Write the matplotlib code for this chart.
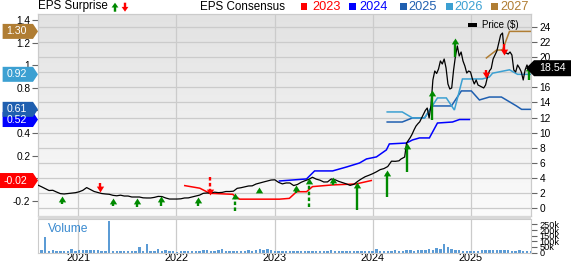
import numpy as np
import pandas as pd
import matplotlib
matplotlib.use('Agg')
import matplotlib.pyplot as plt
import matplotlib.dates as mdates
from matplotlib.patches import Polygon, Rectangle
from matplotlib.transforms import IdentityTransform
from matplotlib.path import Path
from matplotlib.colors import LinearSegmentedColormap
from matplotlib.ticker import FuncFormatter

plt.rcParams['font.family'] = ['Liberation Sans', 'DejaVu Sans']

# ------------------------------------------------------------------ data
price_start_a = '2020-08-03'   # bi-weekly closes
price_a = [3.05, 2.82, 2.57, 2.32, 2.35, 2.12, 1.91, 1.86, 1.92, 1.99,
           2.03, 2.15, 2.35, 2.71, 2.45, 2.19, 2.06, 1.92, 1.86, 1.82,
           1.68, 1.62, 1.70, 1.59, 1.59, 1.46, 1.46, 1.46, 1.35, 1.33,
           1.33, 1.41, 1.54, 1.52, 1.33, 1.19, 1.19, 1.19, 1.22, 1.33,
           1.34, 1.46, 1.59, 1.71, 1.95, 1.99, 1.99, 2.10, 2.04, 2.07,
           2.19, 2.19, 2.23, 2.61, 2.69, 2.81, 2.92, 2.94, 3.18, 3.32,
           3.45, 3.58, 3.71, 3.74, 3.40, 3.20, 3.32, 3.32, 2.98, 3.12,
           3.41, 3.62, 3.79, 4.08, 3.83, 3.69, 3.45, 3.46, 3.85, 3.75,
           3.53, 3.36, 3.20, 3.00, 3.14, 3.53, 3.86, 4.15, 4.34, 4.55,
           4.80, 5.09, 5.23, 5.50, 6.21, 6.19, 6.26]
price_start_b = '2024-04-15'   # weekly closes
price_b = [6.49, 6.63, 6.76, 8.62, 8.99, 9.35, 9.81, 10.37, 10.86, 11.17,
           11.43, 11.94, 12.44, 12.94, 13.26, 11.94, 13.66, 16.98, 18.17, 17.84,
           18.44, 19.50, 19.10, 19.76, 18.57, 16.45, 15.78, 15.92, 18.30, 20.16,
           21.49, 20.16, 20.69, 19.50, 18.83, 17.90, 18.17, 18.04, 17.11, 16.45,
           16.98, 16.31, 16.18, 16.05, 15.92, 16.31, 17.37, 18.17, 18.50, 19.76,
           20.29, 20.82, 21.88, 22.94, 23.21, 20.56, 20.56, 20.42, 20.69, 20.29,
           18.30, 18.04, 18.97, 18.57, 18.04, 16.98, 18.30, 18.97, 18.30, 18.54]

volume_start = '2020-08-03'    # bi-weekly volume, thousands
volume_k = [30, 20, 135, 15, 18, 12, 10, 14, 10, 32,
            14, 18, 22, 20, 24, 18, 20, 16, 14, 280,
            15, 12, 14, 12, 16, 12, 10, 50, 14, 72,
            12, 10, 28, 16, 18, 12, 10, 8, 10, 12,
            10, 14, 12, 15, 18, 20, 16, 14, 18, 30,
            14, 12, 10, 14, 12, 16, 18, 15, 22, 34,
            18, 33, 20, 14, 12, 10, 12, 10, 12, 14,
            12, 10, 14, 12, 16, 14, 12, 14, 24, 12,
            10, 12, 14, 10, 12, 14, 12, 10, 12, 14,
            28, 15, 12, 14, 16, 18, 16, 14, 18, 20,
            16, 18, 20, 22, 32, 22, 40, 35, 80, 45,
            30, 22, 18, 16, 14, 12, 14, 16, 18, 20,
            24, 22, 26, 24, 20, 22, 16, 14, 18, 15,
            16, 14]

cons_years = ['2023', '2024', '2025', '2026', '2027']
cons_colors = ['#ff0000', '#0000ff', '#1f5fb0', '#3ca0d2', '#b07d33']
cons_dates = {
    '2023': ['2022-02-01', '2022-03-29', '2022-05-05', '2022-07-29', '2022-08-24', '2023-01-19',
             '2023-02-25', '2023-03-24', '2023-04-30', '2023-05-22', '2023-08-04', '2023-11-01',
             '2023-12-27'],
    '2024': ['2023-01-19', '2023-04-30', '2023-05-30', '2023-08-05', '2023-09-26', '2023-11-13',
             '2023-12-09', '2024-01-15', '2024-02-21', '2024-03-03', '2024-05-06', '2024-05-28',
             '2024-06-23', '2024-07-30', '2024-08-29', '2024-10-24', '2024-11-19', '2024-12-26'],
    '2025': ['2024-02-24', '2024-04-20', '2024-05-28', '2024-07-12', '2024-08-10', '2024-10-20',
             '2024-11-26', '2025-01-02', '2025-02-01', '2025-03-10', '2025-04-24', '2025-06-19',
             '2025-07-08', '2025-08-11'],
    '2026': ['2024-02-24', '2024-04-20', '2024-05-28', '2024-07-12', '2024-08-29', '2024-10-01',
             '2024-10-31', '2024-11-30', '2025-02-12', '2025-03-10', '2025-03-22', '2025-05-24',
             '2025-06-23', '2025-08-11'],
    '2027': ['2025-02-27', '2025-04-06', '2025-04-28', '2025-05-24', '2025-08-11'],
}
cons_values = {
    '2023': [-0.065, -0.088, -0.133, -0.142, -0.185, -0.185, -0.178, -0.119, -0.119, -0.074,
             -0.059, -0.050, -0.02],
    '2024': [-0.024, -0.006, 0.065, 0.065, 0.100, 0.135, 0.171, 0.189, 0.251, 0.304,
             0.312, 0.339, 0.357, 0.357, 0.489, 0.498, 0.52, 0.52],
    '2025': [0.498, 0.498, 0.534, 0.534, 0.640, 0.640, 0.773, 0.773, 0.693, 0.719,
             0.719, 0.640, 0.61, 0.61],
    '2026': [0.587, 0.587, 0.534, 0.534, 0.711, 0.711, 0.604, 0.879, 0.879, 0.896,
             0.93, 0.96, 0.92, 0.92],
    '2027': [1.065, 1.135, 1.135, 1.30, 1.30],
}

surprise_dates = ['2020-10-31', '2021-03-24', '2021-05-10', '2021-08-07', '2021-11-06',
                  '2022-03-22', '2022-05-05', '2022-08-05', '2022-11-05', '2023-03-21',
                  '2023-05-08', '2023-08-05', '2023-11-05', '2024-02-24', '2024-05-06',
                  '2024-08-07', '2024-11-04', '2025-02-27', '2025-05-05', '2025-08-06']
surprise_from = [0.53, 3.32, 0.27, 0.13, 0.27, 0.27, 4.15, -0.40, 1.99, 1.95,
                 0.17, 3.05, -0.27, 1.50, 4.81, 11.67, 20.07, 18.30, 21.75, 17.00]
surprise_to = [1.59, 2.12, 1.33, 1.33, 1.59, 1.46, 1.72, 1.95, 2.79, 3.05,
               3.94, 4.15, 3.45, 5.04, 8.58, 15.65, 22.50, 17.30, 20.30, 18.90]
surprise_dashed = [False, False, False, False, False, False, True, True, False, False,
                   True, False, False, False, False, False, False, False, False, False]

eps_ticks = [-0.2, 0, 0.2, 0.4, 0.6, 0.8, 1.0, 1.2, 1.4]
price_ticks = list(range(0, 25, 2))
vol_ticks = [0, 50000, 100000, 150000, 200000, 250000]
year_ticks = [2021, 2022, 2023, 2024, 2025]

# ------------------------------------------------------------------ layout
W, H, DPI = 571, 264, 100
fig = plt.figure(figsize=(W / DPI, H / DPI), dpi=DPI)
fig.patch.set_facecolor('white')

L, R = 38, 531
T, B = 14, 216
VT, VB = 219, 252.5


def rect(x0, y0, x1, y1):
    return [x0 / W, 1 - y1 / H, (x1 - x0) / W, (y1 - y0) / H]


ax = fig.add_axes(rect(L, T, R, B))
axp = ax.twinx()
axv = fig.add_axes(rect(L, VT, R, VB))

xmin = mdates.date2num(pd.Timestamp('2020-08-04'))
xmax = mdates.date2num(pd.Timestamp('2025-08-12'))
grid_c = '#cbcbcb'

# background gradient
cmap = LinearSegmentedColormap.from_list('bg', ['#e2e2e2', '#fbfbfb'])
ax.imshow(np.linspace(0, 1, 256).reshape(-1, 1), cmap=cmap, extent=[0, 1, 0, 1],
          transform=ax.transAxes, aspect='auto', zorder=-1, interpolation='bilinear')

ax.set_xlim(xmin, xmax)
ax.set_ylim(-0.334, 1.454)
axp.set_ylim(-1.06, 25.73)

yt = [mdates.date2num(pd.Timestamp(f'{y}-01-01')) for y in year_ticks]
ax.set_xticks(yt)
ax.set_xticklabels([])
ax.tick_params(axis='x', length=0)
ax.set_axisbelow(True)
ax.grid(True, axis='x', color=grid_c, lw=0.9)

ax.set_yticks(eps_ticks)
ax.yaxis.set_major_formatter(FuncFormatter(lambda v, p: f'{round(v, 1):g}'))
ax.tick_params(axis='y', labelsize=7.3, length=4, color='#666666', pad=1.5)

axp.set_yticks(price_ticks)
axp.tick_params(axis='y', labelsize=7.3, length=4, color='#666666', pad=2)
axp.set_axisbelow(True)
axp.grid(True, axis='y', color=grid_c, lw=0.9)
for a in (ax, axp):
    for s in a.spines.values():
        s.set_color(grid_c)

# consensus lines (EPS scale, drawn inside the price axes for layering)
for yr, col in zip(cons_years, cons_colors):
    d = mdates.date2num(pd.to_datetime(cons_dates[yr]))
    axp.plot(d, cons_values[yr], color=col, lw=1.1, transform=ax.transData, zorder=2,
             solid_joinstyle='miter')

# price line
pdates = np.concatenate([
    mdates.date2num(pd.date_range(price_start_a, periods=len(price_a), freq='14D')),
    mdates.date2num(pd.date_range(price_start_b, periods=len(price_b), freq='7D'))])
prices = np.array(price_a + price_b)
axp.plot(pdates, prices, color='black', lw=0.9, zorder=3)

# surprise arrows
up_head = Path([(0, 0), (-0.62, -1), (0.62, -1), (0, 0)],
               [Path.MOVETO, Path.LINETO, Path.LINETO, Path.CLOSEPOLY])
dn_head = Path([(0, 0), (-0.62, 1), (0.62, 1), (0, 0)],
               [Path.MOVETO, Path.LINETO, Path.LINETO, Path.CLOSEPOLY])
ms = 8.5
ax_h_px = (B - T)
px_per_price = ax_h_px / (25.73 + 1.06)
head_price = 0.5 * ms * DPI / 72 / px_per_price
for ds, f, t, dash in zip(surprise_dates, surprise_from, surprise_to, surprise_dashed):
    d = mdates.date2num(pd.Timestamp(ds))
    up = t > f
    col = '#008a00' if up else '#ff0000'
    shaft_end = t - 0.5 * head_price if up else t + 0.5 * head_price
    ls = (0, (1.5, 1.0)) if dash else '-'
    if (shaft_end - f) * (1 if up else -1) > 0:
        axp.plot([d, d], [f, shaft_end], color=col, lw=1.7, ls=ls, zorder=4,
                 solid_capstyle='butt', dash_capstyle='butt')
    axp.plot([d], [t], marker=up_head if up else dn_head, ms=ms, color=col, mew=0, zorder=5)

# price legend inside the plot
fig.add_artist(Rectangle((467.7, H - 27.3), 9.6, 4.6, transform=IdentityTransform(),
                         fc='black', ec='none', zorder=4))
fig.text(482.5 / W, 1 - 25 / H, 'Price ($)', fontsize=7, va='center', ha='left')

# ------------------------------------------------------------------ volume
vdates = pd.date_range(volume_start, periods=len(volume_k), freq='14D')
axv.bar(mdates.date2num(vdates), np.array(volume_k) * 1000, width=9, color='#5b9bd5', lw=0,
        zorder=2)
axv.set_xlim(xmin, xmax)
axv.set_ylim(0, 299000)
axv.set_xticks(yt)
axv.set_xticklabels([str(y) for y in year_ticks])
axv.tick_params(axis='x', length=0, labelsize=7.8, pad=0.5)
axv.set_axisbelow(True)
axv.grid(True, axis='x', color=grid_c, lw=0.9)
axv.yaxis.tick_right()
axv.set_yticks(vol_ticks)
axv.yaxis.set_major_formatter(FuncFormatter(lambda v, p: '0' if v == 0 else f'{int(v / 1000)}k'))
axv.tick_params(axis='y', labelsize=6.6, length=4, color='#666666', pad=2)
for s in axv.spines.values():
    s.set_color(grid_c)
axv.text(48 / W, 1 - 229 / H, 'Volume', transform=fig.transFigure, fontsize=8.7,
         color='#3a8ad0', va='center', ha='left')

# separator band
fig.add_artist(Rectangle((L, H - VT), R - L, 3, transform=IdentityTransform(),
                         fc='#d8d8d8', ec='none', zorder=3))

# ------------------------------------------------------------------ header
fig.text(38 / W, 1 - 6.5 / H, 'EPS Surprise', fontsize=8.4, va='center', ha='left')


def arrow_poly(xc, y_tip, y_tail, up, col):
    hw, hl, sw = 3.4, 4.8, 1.2
    s = 1 if up else -1
    yb = y_tip + s * hl
    pts = [(xc, y_tip), (xc + hw, yb), (xc + sw, yb), (xc + sw, y_tail),
           (xc - sw, y_tail), (xc - sw, yb), (xc - hw, yb)]
    pts = [(x, H - y) for x, y in pts]
    fig.add_artist(Polygon(pts, closed=True, transform=IdentityTransform(), fc=col,
                           ec='none', zorder=4))


arrow_poly(115, 2.7, 11.7, True, '#008a00')
arrow_poly(125, 11.7, 2.7, False, '#ff0000')

fig.text(200 / W, 1 - 6.5 / H, 'EPS Consensus', fontsize=8.4, va='center', ha='left')
leg_sq_x = [300.7, 349, 400, 446, 491]
leg_tx_x = [312, 359.5, 408, 454, 500]
for yr, col, sx, tx in zip(cons_years, cons_colors, leg_sq_x, leg_tx_x):
    fig.add_artist(Rectangle((sx, H - 9.5), 6.6, 6.6, transform=IdentityTransform(),
                             fc=col, ec='none', zorder=4))
    fig.text(tx / W, 1 - 6.5 / H, yr, fontsize=9.2, color=col, va='center', ha='left')

# ------------------------------------------------------------------ value tags
renderer = fig.canvas.get_renderer()


def left_tag(value, col):
    yd = ax.transData.transform((xmin, value))[1]
    txt = fig.text(27 / W, yd / H, f'{value:.2f}', fontsize=7.6, color='white',
                   ha='right', va='center', zorder=7)
    bb = txt.get_window_extent(renderer)
    left = bb.x0 - 4
    hh = 7.5
    pts = [(left, yd - hh), (33, yd - hh), (38, yd), (33, yd + hh), (left, yd + hh)]
    fig.add_artist(Polygon(pts, closed=True, transform=IdentityTransform(), fc=col,
                           ec='none', zorder=6))


order = ['2024', '2025', '2026', '2027', '2023']
for yr in order:
    left_tag(cons_values[yr][-1], cons_colors[cons_years.index(yr)])

last_price = prices[-1]
yd = axp.transData.transform((xmax, last_price))[1]
pts = [(526, yd), (534, yd + 8), (W + 2, yd + 8), (W + 2, yd - 8), (534, yd - 8)]
fig.add_artist(Polygon(pts, closed=True, transform=IdentityTransform(), fc='black',
                       ec='none', zorder=6))
fig.text(539.5 / W, yd / H, f'{last_price:.2f}', fontsize=7.7, color='white',
         ha='left', va='center', zorder=7)

fig.savefig('out.png', dpi=DPI, facecolor='white')
